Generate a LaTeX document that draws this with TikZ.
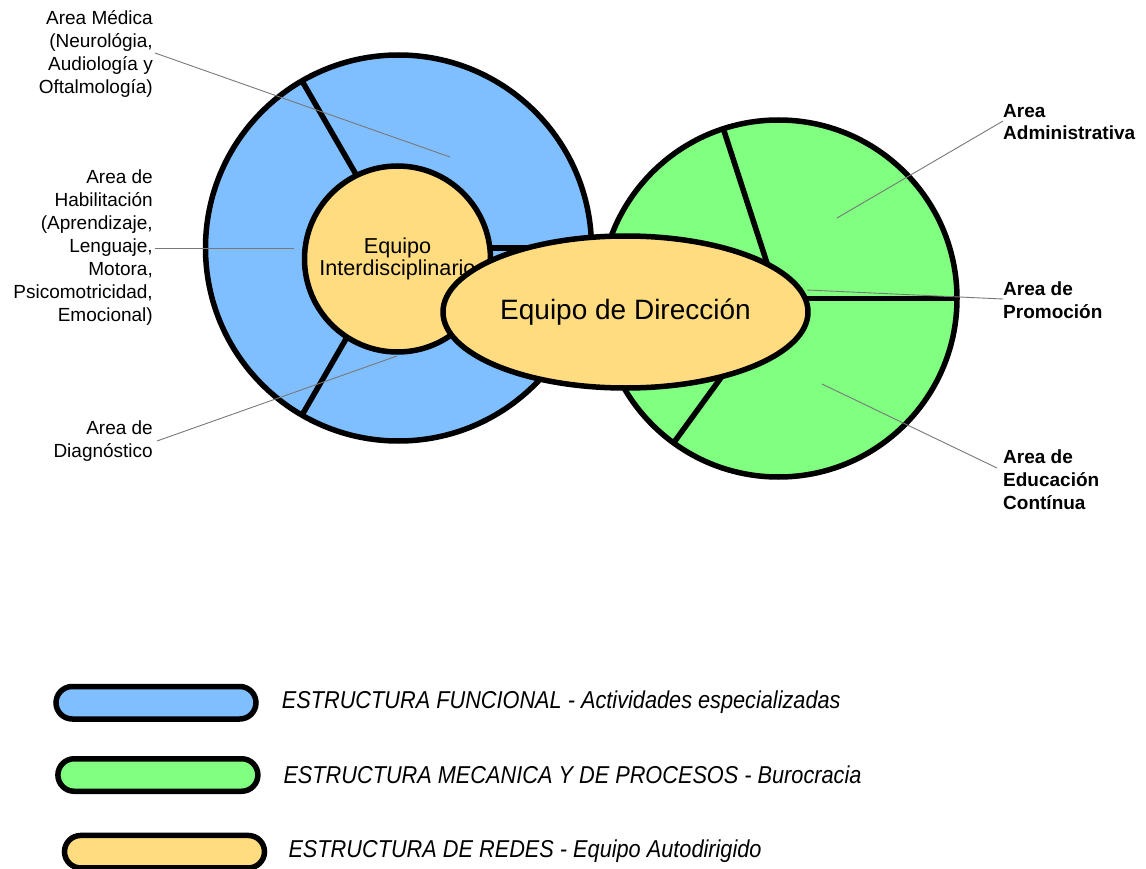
\documentclass[tikz,border=0pt]{standalone}
\usepackage{graphicx}
\usepackage{fontspec}
\setmainfont{Liberation Sans}
\usetikzlibrary{shapes.misc,shapes.geometric}
\definecolor{blueF}{RGB}{128,191,255}
\definecolor{greenF}{RGB}{128,255,128}
\definecolor{yellowF}{RGB}{255,220,128}
\definecolor{leadC}{RGB}{120,120,120}
\begin{document}
\begin{tikzpicture}[x=1pt,y=-1pt,
  ring/.style={draw=black,line width=5.5pt},
  divider/.style={draw=black,line width=5.5pt},
  leader/.style={draw=leadC,line width=0.9pt},
  lbl/.style={inner sep=0pt,font=\fontsize{19}{23}\selectfont},
  blbl/.style={inner sep=0pt,font=\bfseries\fontsize{19}{22.7}\selectfont,align=left,anchor=west},
  pill/.style={rounded rectangle,draw=black,line width=5.5pt,minimum width=200pt,minimum height=32.5pt,inner sep=0pt},
  legtext/.style={inner sep=0pt,anchor=base west,font=\itshape\fontsize{24.4}{29}\selectfont}
]
\useasboundingbox (0,0) rectangle (1146,869);

% ---- functional structure (blue ring) ----
\draw[ring,fill=blueF] (398.5,248) circle[radius=193];
\coordinate (bc) at (398.5,248);
\coordinate (bd0) at (591.5,248);
\coordinate (bd1) at (302,80.9);
\coordinate (bd2) at (302,415.1);
\draw[divider] (bc) -- (bd0);
\draw[divider] (bc) -- (bd1);
\draw[divider] (bc) -- (bd2);
\node[ring,circle,fill=yellowF,minimum size=186pt,inner sep=0pt,align=center,
      font=\fontsize{21.6}{22.5}\selectfont] (inner) at (397.5,259) {Equipo\\Interdisciplinario};

% ---- mechanical structure (green disc) ----
\draw[ring,fill=greenF] (778.5,298.5) circle[radius=178.5];
\coordinate (gc) at (778.5,298.5);
\coordinate (gd0) at (957,298.5);
\coordinate (gd1) at (723.3,128.7);
\coordinate (gd2) at (673.6,442.9);
\draw[divider] (gc) -- (gd0);
\draw[divider] (gc) -- (gd1);
\draw[divider] (gc) -- (gd2);

% ---- network structure (direction) ----
\node[ring,ellipse,fill=yellowF,minimum width=365pt,minimum height=152pt,inner sep=0pt,
      font=\fontsize{28}{30}\selectfont] (dir) at (625.5,312) {Equipo de Dirección};

% ---- labels ----
\node[lbl,align=right,anchor=east] (medica) at (153,53.7)
  {Area Médica\\(Neurológia,\\Audiología y\\Oftalmología)};
\node[lbl,align=right,anchor=east] (habil) at (153,247.8)
  {Area de\\Habilitación\\(Aprendizaje,\\Lenguaje,\\Motora,\\Psicomotricidad,\\Emocional)};
\node[lbl,align=right,anchor=east] (diag) at (153,441)
  {Area de\\Diagnóstico};
\node[blbl] (admin) at (1003,122) {Area\\Administrativa};
\node[blbl] (promo) at (1003,300.5) {Area de\\Promoción};
\node[blbl] (educ) at (1003,479.7) {Area de\\Educación\\Contínua};

% ---- leader lines ----
\coordinate (lm0) at (155,53);   \coordinate (lm1) at (450,157);
\coordinate (lh0) at (155,248);  \coordinate (lh1) at (294,248);
\coordinate (ld0) at (157,441);  \coordinate (ld1) at (397,356);
\coordinate (la0) at (1003,121); \coordinate (la1) at (837,218);
\coordinate (lp0) at (1003,299); \coordinate (lp1) at (807,290);
\coordinate (le0) at (997,468);  \coordinate (le1) at (822,384);
\draw[leader] (lm0) -- (lm1);
\draw[leader] (lh0) -- (lh1);
\draw[leader] (ld0) -- (ld1);
\draw[leader] (la0) -- (la1);
\draw[leader] (lp0) -- (lp1);
\draw[leader] (le0) -- (le1);

% ---- legend ----
\node[pill,fill=blueF] (pb) at (156,702.75) {};
\node[pill,fill=greenF] (pg) at (157.9,775) {};
\node[pill,fill=yellowF] (py) at (164.5,851.7) {};
\node[legtext] (tb) at (281.7,708.3) {\scalebox{0.89}[1]{ESTRUCTURA FUNCIONAL - Actividades especializadas}};
\node[legtext] (tg) at (283.3,783.3) {\scalebox{0.89}[1]{ESTRUCTURA MECANICA Y DE PROCESOS - Burocracia}};
\node[legtext] (ty) at (288.3,857.7) {\scalebox{0.89}[1]{ESTRUCTURA DE REDES - Equipo Autodirigido}};
\end{tikzpicture}
\end{document}
